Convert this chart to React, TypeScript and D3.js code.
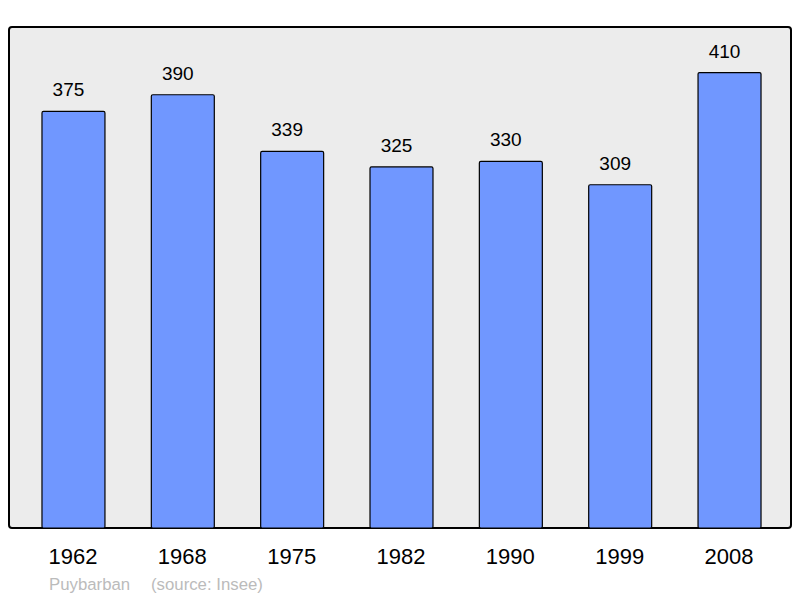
import React from "react";
import * as d3 from "d3";

const years = ["1962", "1968", "1975", "1982", "1990", "1999", "2008"];
const population = [375, 390, 339, 325, 330, 309, 410];
const commune = "Puybarban";
const source = "(source: Insee)";

const W = 800;
const H = 598;
const panel = { x: 9, y: 27, w: 782, h: 501 };

export default function App() {
  const x = d3
    .scaleBand<string>()
    .domain(years)
    .range([18.8, 784.2])
    .paddingInner(0.424)
    .paddingOuter(0.212);
  const y = d3
    .scaleLinear()
    .domain([0, d3.max(population)! * 1.1])
    .range([panel.y + panel.h, panel.y]);

  const font = "'Liberation Sans', Arial, sans-serif";

  return (
    <svg
      width={W}
      height={H}
      style={{ position: "absolute", left: 0, top: 0 }}
      fontFamily={font}
    >
      <rect x={0} y={0} width={W} height={H} fill="#ffffff" />
      <rect
        x={panel.x}
        y={panel.y}
        width={panel.w}
        height={panel.h}
        rx={3}
        fill="#ececec"
        stroke="#000"
        strokeWidth={2}
      />
      {years.map((yr, i) => {
        const bx = x(yr)!;
        const v = population[i];
        const top = y(v);
        return (
          <g key={yr}>
            <rect
              x={bx}
              y={top}
              width={x.bandwidth()}
              height={y(0) - top}
              rx={1.5}
              fill="#7097ff"
              stroke="#000"
              strokeWidth={1.2}
            />
            <text
              x={bx + x.bandwidth() / 2 - 5}
              y={top - 15}
              textAnchor="middle"
              fontSize={19}
              fill="#000"
            >
              {v}
            </text>
            <text
              x={bx + x.bandwidth() / 2 - 0.5}
              y={564}
              textAnchor="middle"
              fontSize={22}
              fill="#000"
            >
              {yr}
            </text>
          </g>
        );
      })}
      <text x={49} y={590} fontSize={16.8} fill="#bbbbbb">
        {commune}
      </text>
      <text x={151} y={590} fontSize={16.8} fill="#bbbbbb">
        {source}
      </text>
    </svg>
  );
}
